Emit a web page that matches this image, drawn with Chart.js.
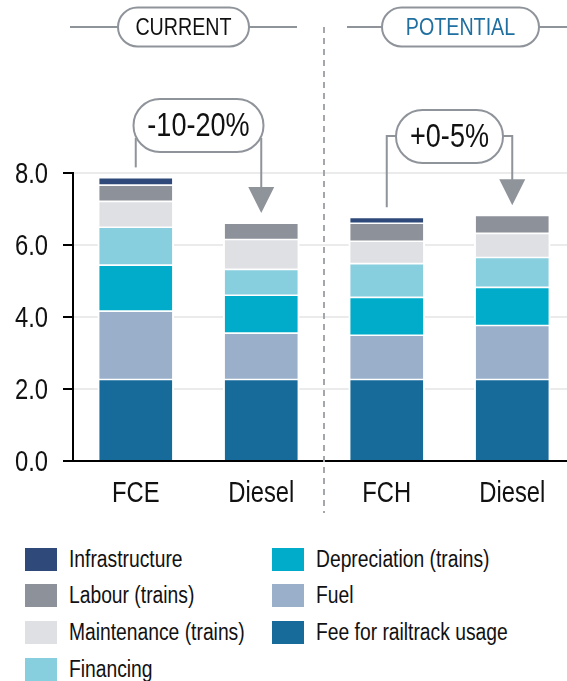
<!DOCTYPE html>
<html>
<head>
<meta charset="utf-8">
<script src="https://cdn.jsdelivr.net/npm/chart.js@4"></script>
<style>
  html, body { margin: 0; padding: 0; width: 567px; height: 681px; overflow: hidden; background: #fff; }
  #wrap { position: relative; width: 567px; height: 681px; }
  #mainChart { position: absolute; left: 0; top: 0; }
  .leg { position: absolute; height: 23px; display: flex; align-items: center;
         font-family: 'Liberation Sans', Arial, sans-serif;
         font-size: 23.5px; color: #111; white-space: nowrap; }
  .leg .box { display: inline-block; width: 32px; height: 23px; margin-right: 12px; flex: none; }
  .leg .txt { display: inline-block; transform: scaleX(0.82); transform-origin: left center; }
</style>
</head>
<body>
<div id="wrap">
  <canvas id="mainChart" width="575" height="530"></canvas>
  <div id="legend"></div>
</div>
<script>
const FONT = "'Liberation Sans', Arial, sans-serif";
const NARROW = 0.82;

const categories = ['FCE', 'Diesel', 'FCH', 'Diesel'];
const groupNames = ['CURRENT', 'POTENTIAL'];
const changeLabels = ['-10-20%', '+0-5%'];
const yTicks = [0, 2, 4, 6, 8];

// stacked from bottom to top
const fee = [2.24, 2.24, 2.24, 2.24];
const fuel = [1.90, 1.29, 1.23, 1.50];
const depreciation = [1.28, 1.05, 1.05, 1.06];
const financing = [1.05, 0.72, 0.94, 0.83];
const maintenance = [0.72, 0.83, 0.62, 0.67];
const labour = [0.45, 0.45, 0.50, 0.50];
const infrastructure = [0.21, 0, 0.16, 0];

const SERIES = [
    { label: 'Fee for railtrack usage', data: fee, color: '#176b9b' },
    { label: 'Fuel', data: fuel, color: '#9aafca' },
    { label: 'Depreciation (trains)', data: depreciation, color: '#00acc9' },
    { label: 'Financing', data: financing, color: '#87cedf' },
    { label: 'Maintenance (trains)', data: maintenance, color: '#dfe0e4' },
    { label: 'Labour (trains)', data: labour, color: '#8d9199' },
    { label: 'Infrastructure', data: infrastructure, color: '#2f4a7a' }
];

const LEGEND_ORDER = [
    ['Infrastructure', 'Labour (trains)', 'Maintenance (trains)', 'Financing'],
    ['Depreciation (trains)', 'Fuel', 'Fee for railtrack usage']
];

const GRAY = '#8f939a';

// narrow text: Arial Narrow is not installed, so squeeze Liberation Sans
function narrowText(ctx, text, x, y, size, color, align) {
    ctx.save();
    ctx.translate(x, y);
    ctx.scale(NARROW, 1);
    ctx.font = size + 'px ' + FONT;
    ctx.fillStyle = color;
    ctx.textAlign = align || 'center';
    ctx.textBaseline = 'middle';
    ctx.fillText(text, 0, 0);
    ctx.restore();
}

function pillPath(ctx, x, y, w, h) {
    const r = h / 2;
    ctx.beginPath();
    ctx.moveTo(x + r, y);
    ctx.lineTo(x + w - r, y);
    ctx.arc(x + w - r, y + r, r, -Math.PI / 2, Math.PI / 2);
    ctx.lineTo(x + r, y + h);
    ctx.arc(x + r, y + r, r, Math.PI / 2, Math.PI * 1.5);
    ctx.closePath();
}

function drawPill(ctx, cx, cy, w, h, text, size, color) {
    ctx.save();
    pillPath(ctx, cx - w / 2, cy - h / 2, w, h);
    ctx.fillStyle = '#fff';
    ctx.fill();
    ctx.lineWidth = 2;
    ctx.strokeStyle = GRAY;
    ctx.stroke();
    ctx.restore();
    narrowText(ctx, text, cx, cy + 1, size, color);
}

function line(ctx, pts) {
    ctx.beginPath();
    ctx.moveTo(pts[0][0], pts[0][1]);
    for (let i = 1; i < pts.length; i++) ctx.lineTo(pts[i][0], pts[i][1]);
    ctx.stroke();
}

function arrowHead(ctx, x, tipY) {
    ctx.beginPath();
    ctx.moveTo(x - 13, tipY - 26);
    ctx.lineTo(x + 13, tipY - 26);
    ctx.lineTo(x, tipY);
    ctx.closePath();
    ctx.fill();
}

function barTop(chart, i) {
    let total = 0;
    SERIES.forEach(s => total += s.data[i]);
    return chart.scales.y.getPixelForValue(total);
}

const annotations = {
    id: 'annotations',
    afterDraw(chart) {
        const ctx = chart.ctx;
        const x = chart.scales.x;
        const y = chart.scales.y;

        // tick labels
        yTicks.forEach(v => {
            narrowText(ctx, v.toFixed(1), y.right - 25, y.getPixelForValue(v) + 1.5, 29, '#111', 'right');
        });
        categories.forEach((c, i) => {
            narrowText(ctx, c, x.getPixelForValue(i), x.top + 33, 29, '#111');
        });

        const divX = x.getPixelForValue(1.5);
        ctx.save();
        // divider
        ctx.strokeStyle = '#a3a6ab';
        ctx.lineWidth = 2;
        ctx.setLineDash([6, 5]);
        line(ctx, [[divX, 27], [divX, 513]]);
        ctx.setLineDash([]);

        // group headers
        ctx.strokeStyle = GRAY;
        line(ctx, [[70, 27], [divX - 27, 27]]);
        line(ctx, [[divX + 23, 27], [567, 27]]);
        drawPill(ctx, 183.5, 27, 131, 39, groupNames[0], 24, '#111');
        drawPill(ctx, 460.5, 27, 157, 39, groupNames[1], 24, '#1f6fa0');

        // change brackets
        ctx.fillStyle = GRAY;
        ctx.strokeStyle = GRAY;
        ctx.lineWidth = 2;
        const x0 = x.getPixelForValue(0), x1 = x.getPixelForValue(1);
        const x2 = x.getPixelForValue(2), x3 = x.getPixelForValue(3);
        line(ctx, [[x0, 138], [x0, barTop(chart, 0) - 11]]);
        line(ctx, [[x1, 138], [x1, barTop(chart, 1) - 30]]);
        arrowHead(ctx, x1, barTop(chart, 1) - 11);
        drawPill(ctx, (x0 + x1) / 2, 125.5, 130, 53, changeLabels[0], 33, '#111');

        line(ctx, [[(x2 + x3) / 2 - 40, 136], [x2, 136], [x2, barTop(chart, 2) - 11]]);
        line(ctx, [[(x2 + x3) / 2 + 40, 136], [x3, 136], [x3, barTop(chart, 3) - 30]]);
        arrowHead(ctx, x3, barTop(chart, 3) - 11);
        drawPill(ctx, (x2 + x3) / 2, 136.5, 107, 53, changeLabels[1], 33, '#111');
        ctx.restore();
    }
};

function createChart() {
    const CTX = document.getElementById('mainChart').getContext('2d');
    return new Chart(CTX, {
        type: 'bar',
        data: {
            labels: categories,
            datasets: SERIES.map((s, i) => ({
                label: s.label,
                data: s.data,
                backgroundColor: s.color,
                borderColor: '#fff',
                borderWidth: { top: 0, bottom: i === 0 ? 0 : 2, left: 2, right: 2 },
                borderSkipped: false,
                barThickness: 76
            }))
        },
        options: {
            responsive: false,
            animation: false,
            events: [],
            layout: { padding: { top: 173, left: 0, right: 0, bottom: 0 } },
            scales: {
                x: {
                    stacked: true,
                    grid: { display: false, drawTicks: false },
                    border: { color: '#000', width: 2 },
                    ticks: { display: false },
                    afterFit: (scale) => { scale.height = 69; }
                },
                y: {
                    stacked: true,
                    min: yTicks[0],
                    max: yTicks[yTicks.length - 1],
                    afterBuildTicks: (scale) => { scale.ticks = yTicks.map(v => ({ value: v })); },
                    grid: { color: '#ebebeb', lineWidth: 2, tickColor: '#000', tickWidth: 2, tickLength: 10 },
                    border: { color: '#000', width: 2 },
                    ticks: { display: false },
                    afterFit: (scale) => { scale.width = 73; }
                }
            },
            plugins: {
                legend: { display: false },
                tooltip: { enabled: false }
            }
        },
        plugins: [annotations]
    });
}

function buildLegend() {
    const box = document.getElementById('legend');
    LEGEND_ORDER.forEach((col, c) => {
        col.forEach((name, r) => {
            const s = SERIES.find(d => d.label === name);
            const el = document.createElement('div');
            el.className = 'leg';
            el.style.left = (c === 0 ? 25 : 271.5) + 'px';
            el.style.top = (547.5 + r * 36.7) + 'px';
            el.innerHTML = '<span class="box" style="background:' + s.color + '"></span><span class="txt">' + name + '</span>';
            box.appendChild(el);
        });
    });
}

buildLegend();
createChart();
</script>
</body>
</html>
